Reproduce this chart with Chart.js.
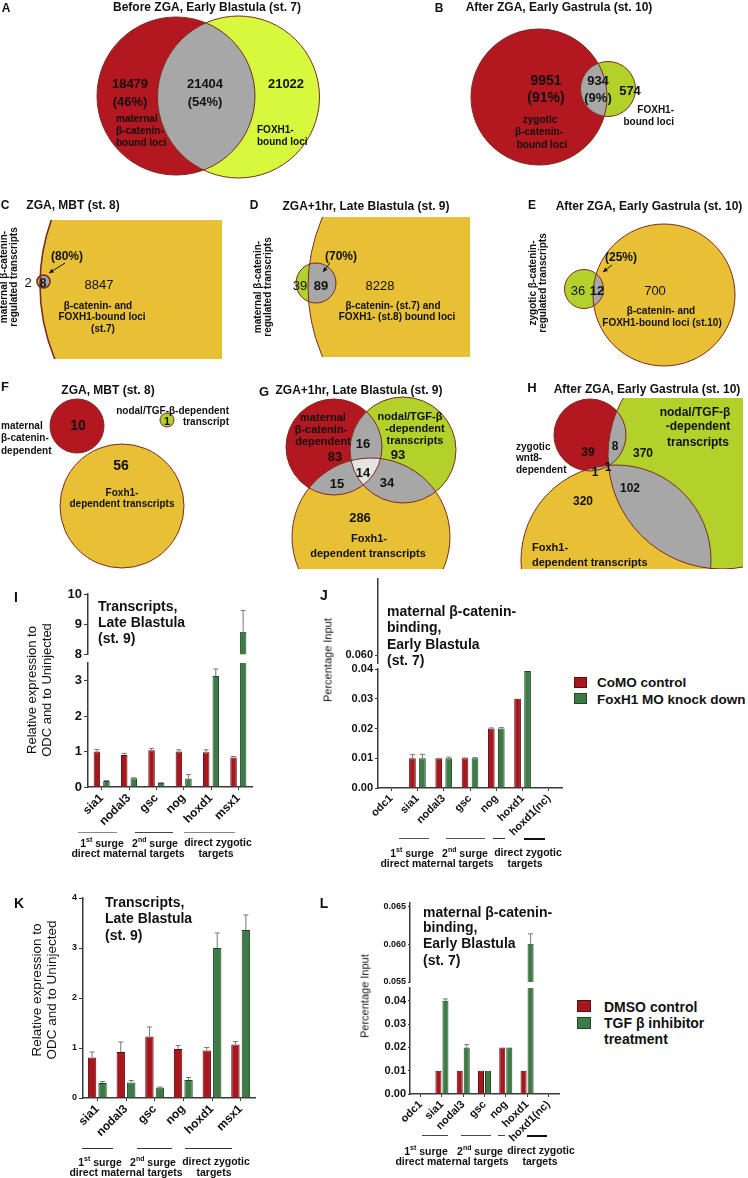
<!DOCTYPE html>
<html>
<head>
<meta charset="utf-8">
<script src="https://cdn.jsdelivr.net/npm/chart.js@4.4.1/dist/chart.umd.min.js"></script>
<style>
html, body { margin: 0; padding: 0; background: #fff; }
body { position: relative; width: 748px; height: 1178px; overflow: hidden; color: #111; }
canvas { position: absolute; }
.t { position: absolute; white-space: nowrap; }
.gl { position: absolute; height: 0; }
.sw { position: absolute; box-sizing: border-box; }
</style>
</head>
<body>
<script>
// ---- values ----
const countsA = [18479, 21404, 21022];
const shareA = ['46%', '54%'];
const countsB = [9951, 934, 574];
const shareB = ['91%', '9%'];
const countsC = [2, 8, 8847];
const countsD = [39, 89, 8228];
const countsE = [36, 12, 700];
const shareCDE = ['80%', '70%', '25%'];
const countsF = [10, 1, 56];
const countsG = [83, 16, 93, 14, 15, 34, 286];
const countsH = [39, 8, 370, 1, 1, 102, 320];

const genesIK = ['sia1', 'nodal3', 'gsc', 'nog', 'hoxd1', 'msx1'];
const genesJL = ['odc1', 'sia1', 'nodal3', 'gsc', 'nog', 'hoxd1', 'hoxd1(nc)'];

// I: transcripts, CoMO vs FoxH1 MO
const iCoMO = [1.0, 0.9, 1.04, 1.0, 0.98, 0.83];
const iCoMOErr = [0.06, 0.05, 0.05, 0.05, 0.07, 0.03];
const iFoxH1 = [0.17, 0.25, 0.11, 0.24, 3.13, 8.75];
const iFoxH1Err = [0.01, 0.01, 0.01, 0.11, 0.2, 0.7];
// J: ChIP, CoMO vs FoxH1 MO
const jCoMO = [0.0002, 0.01, 0.01, 0.01, 0.02, 0.03, 0.0002];
const jCoMOErr = [0, 0.0012, 0, 0.0001, 0.0002, 0, 0];
const jFoxH1 = [0.0002, 0.01, 0.01, 0.01, 0.02, 0.0393, 0.0002];
const jFoxH1Err = [0, 0.0013, 0.0004, 0.0002, 0.0003, 0, 0];
// K: transcripts, DMSO vs TGF-beta inhibitor
const kDMSO = [0.81, 0.92, 1.23, 0.98, 0.95, 1.07];
const kDMSOErr = [0.11, 0.2, 0.19, 0.07, 0.06, 0.06];
const kTGF = [0.3, 0.31, 0.21, 0.36, 3.0, 3.36];
const kTGFErr = [0.03, 0.04, 0.01, 0.05, 0.3, 0.3];
// L: ChIP, DMSO vs TGF-beta inhibitor
const lDMSO = [0.0002, 0.01, 0.01, 0.01, 0.02, 0.01, 0.0002];
const lDMSOErr = [0, 0, 0, 0, 0, 0, 0];
const lTGF = [0.0002, 0.04, 0.02, 0.01, 0.02, 0.0601, 0.0002];
const lTGFErr = [0, 0.0008, 0.0012, 0, 0, 0.0013, 0];

const ticksIlow = [0, 1, 2, 3];
const ticksIhigh = [8, 9, 10];
const ticksJlow = [0, 0.01, 0.02, 0.03, 0.04];
const ticksJhigh = [0.06];
const ticksK = [0, 1, 2, 3, 4];
const ticksLlow = [0, 0.01, 0.02, 0.03, 0.04];
const ticksLhigh = [0.055, 0.06, 0.065];

// ---- styles ----
const FONT = '"Liberation Sans", Arial, Helvetica, sans-serif';
const RED_V = '#b3171f', LIME = '#d7f83c', GREEN_V = '#b4d02b', GOLD = '#e8c035';
const GRAY = '#a7a7a7', LIGHT = '#e4e4e4', EDGE = '#7b2b20';
const BAR_RED = '#a8161e', BAR_RED_EDGE = '#5e0c10';
const BAR_GREEN = '#3c7b45', BAR_GREEN_EDGE = '#1f4626';
const AXIS = '#3a3a3a';

// venn geometry, in page units (drawn through the chart scales)
const vennLayout = [
  { centers: [[176, 96], [238.5, 97]], radii: [79, 81], fills: [RED_V, LIME], pairs: [[0, 1]] },
  { centers: [[539, 97], [608, 89]], radii: [68, 27.5], fills: [RED_V, GREEN_V], pairs: [[0, 1]] },
  { centers: [[232, 285], [43.5, 281.5]], radii: [192, 6.5], fills: [GOLD, GREEN_V], pairs: [[0, 1]], clip: [0, 220, 222, 359], edge: 1.6 },
  { centers: [[483, 287], [316, 283]], radii: [175, 20], fills: [GOLD, GREEN_V], pairs: [[0, 1]], clip: [250, 217, 470, 357] },
  { centers: [[664, 295], [584, 289]], radii: [71, 19.5], fills: [GOLD, GREEN_V], pairs: [[0, 1]] },
  { centers: [[77, 426], [167, 420], [122, 506]], radii: [27, 7, 62], fills: [RED_V, GREEN_V, GOLD] },
  { centers: [[334, 447], [403, 450], [371, 537]], radii: [48, 53, 79], fills: [RED_V, GREEN_V, GOLD],
    pairs: [[0, 1], [0, 2], [1, 2]], triples: [[0, 1, 2]], clip: [250, 396, 500, 569] },
  { centers: [[590, 435], [722, 455], [616, 560]], radii: [36, 114, 95], fills: [RED_V, GREEN_V, GOLD],
    pairs: [[0, 1], [0, 2], [1, 2]], triples: [[0, 1, 2]], clip: [500, 398, 743, 569] }
];
const vennArrows = [[65, 263, 49, 273], [330, 263, 323, 272], [612, 265, 603, 272]];

// ---- helpers ----
function put(x, y, html, font, align, rot, lh) {
  const d = document.createElement('div');
  d.className = 't';
  d.innerHTML = html;
  d.style.font = font + ' ' + FONT;
  d.style.lineHeight = lh ? lh + 'px' : '1';
  d.style.textAlign = 'center';
  d.style.left = x + 'px';
  d.style.top = y + 'px';
  const tx = align === 'l' ? '0' : align === 'r' ? '-100%' : '-50%';
  d.style.transform = 'translate(' + tx + ',-50%)' + (rot ? ' rotate(-90deg)' : '');
  document.body.appendChild(d);
  return d;
}

function hline(x1, x2, y, color, w) {
  const d = document.createElement('div');
  d.className = 'gl';
  d.style.left = x1 + 'px';
  d.style.top = y + 'px';
  d.style.width = (x2 - x1) + 'px';
  d.style.borderTop = w + 'px solid ' + color;
  document.body.appendChild(d);
}

function swatch(x, y, w, h, fill, edge) {
  const d = document.createElement('div');
  d.className = 'sw';
  d.style.cssText += 'left:' + x + 'px;top:' + y + 'px;width:' + w + 'px;height:' + h + 'px;background:' + fill + ';border:1px solid ' + edge;
  document.body.appendChild(d);
}

function addCanvas(left, top, w, h) {
  const cv = document.createElement('canvas');
  cv.width = w;
  cv.height = h;
  cv.style.left = left + 'px';
  cv.style.top = top + 'px';
  document.body.appendChild(cv);
  return cv;
}

// ---- venn plugin: circles, overlaps, outlines ----
const vennPlugin = {
  id: 'venn',
  beforeDatasetsDraw(chart) {
    const { ctx } = chart;
    const sx = chart.scales.x, sy = chart.scales.y;
    const path = c => { ctx.beginPath(); ctx.arc(c.x, c.y, c.r, 0, Math.PI * 2); };
    chart.data.datasets.forEach((ds, di) => {
      const pts = chart.getDatasetMeta(di).data;
      const circ = pts.map((p, i) => ({
        x: p.x, y: p.y,
        r: Math.abs(sx.getPixelForValue(ds.data[i].x + ds.radii[i]) - p.x)
      }));
      ctx.save();
      if (ds.clip) {
        const c = ds.clip;
        const x0 = sx.getPixelForValue(c[0]), y0 = sy.getPixelForValue(c[1]);
        const x1 = sx.getPixelForValue(c[2]), y1 = sy.getPixelForValue(c[3]);
        ctx.beginPath();
        ctx.rect(x0, y0, x1 - x0, y1 - y0);
        ctx.clip();
      }
      circ.forEach((c, i) => { path(c); ctx.fillStyle = ds.fills[i]; ctx.fill(); });
      (ds.pairs || []).forEach(([i, j]) => {
        ctx.save(); path(circ[i]); ctx.clip(); path(circ[j]); ctx.fillStyle = GRAY; ctx.fill(); ctx.restore();
      });
      (ds.triples || []).forEach(([i, j, k]) => {
        ctx.save(); path(circ[i]); ctx.clip(); path(circ[j]); ctx.clip();
        path(circ[k]); ctx.fillStyle = LIGHT; ctx.fill(); ctx.restore();
      });
      ctx.strokeStyle = EDGE;
      ctx.lineWidth = ds.edge || 1;
      circ.forEach(c => { path(c); ctx.stroke(); });
      ctx.restore();
    });
    // pointer arrows in C, D, E
    ctx.save();
    ctx.strokeStyle = '#111';
    ctx.fillStyle = '#111';
    ctx.lineWidth = 1;
    vennArrows.forEach(a => {
      const x0 = sx.getPixelForValue(a[0]), y0 = sy.getPixelForValue(a[1]);
      const x1 = sx.getPixelForValue(a[2]), y1 = sy.getPixelForValue(a[3]);
      const ang = Math.atan2(y1 - y0, x1 - x0);
      ctx.beginPath(); ctx.moveTo(x0, y0); ctx.lineTo(x1, y1); ctx.stroke();
      ctx.beginPath();
      ctx.moveTo(x1, y1);
      ctx.lineTo(x1 - 5 * Math.cos(ang - 0.45), y1 - 5 * Math.sin(ang - 0.45));
      ctx.lineTo(x1 - 5 * Math.cos(ang + 0.45), y1 - 5 * Math.sin(ang + 0.45));
      ctx.closePath();
      ctx.fill();
    });
    ctx.restore();
  }
};

// ---- error bar plugin ----
const errorBars = {
  id: 'errorBars',
  afterDatasetsDraw(chart) {
    const { ctx, chartArea: a } = chart;
    const y = chart.scales.y;
    ctx.save();
    ctx.beginPath();
    ctx.rect(a.left, a.top - 1, a.right - a.left, a.bottom - a.top + 1);
    ctx.clip();
    ctx.strokeStyle = '#777';
    ctx.lineWidth = 1;
    chart.data.datasets.forEach((ds, di) => {
      chart.getDatasetMeta(di).data.forEach((bar, i) => {
        const e = ds.errors[i];
        if (!e) return;
        const v = ds.data[i];
        const top = y.getPixelForValue(v + e), base = y.getPixelForValue(v);
        ctx.beginPath();
        ctx.moveTo(bar.x, base);
        ctx.lineTo(bar.x, top);
        ctx.moveTo(bar.x - 2.5, top);
        ctx.lineTo(bar.x + 2.5, top);
        ctx.stroke();
      });
    });
    ctx.restore();
  }
};

// ---- venn chart (A-H) ----
const vennCanvas = addCanvas(0, 0, 748, 575);
new Chart(vennCanvas, {
  type: 'scatter',
  data: {
    datasets: vennLayout.map(v => ({
      data: v.centers.map(([x, y]) => ({ x, y })),
      radii: v.radii, fills: v.fills, pairs: v.pairs, triples: v.triples, clip: v.clip, edge: v.edge,
      pointRadius: 0, pointHoverRadius: 0
    }))
  },
  options: {
    responsive: false, animation: false, devicePixelRatio: 1, events: [],
    layout: { padding: 0 },
    plugins: { legend: { display: false }, tooltip: { enabled: false } },
    scales: {
      x: { type: 'linear', min: 0, max: 748, display: false },
      y: { type: 'linear', min: 0, max: 575, reverse: true, display: false }
    }
  },
  plugins: [vennPlugin]
});

// ---- bar charts ----
function barPanel(o) {
  const cv = addCanvas(o.left, o.top, o.w, o.h);
  return new Chart(cv, {
    type: 'bar',
    data: {
      labels: o.labels,
      datasets: o.series.map((s, i) => ({
        label: s.label, data: s.values, errors: s.errors,
        backgroundColor: i ? BAR_GREEN : BAR_RED,
        borderColor: i ? BAR_GREEN_EDGE : BAR_RED_EDGE,
        borderWidth: 1,
        barPercentage: o.barPct, categoryPercentage: o.catPct,
        clip: 0
      }))
    },
    options: {
      responsive: false, animation: false, devicePixelRatio: 1, events: [],
      layout: { padding: { top: o.padTop, right: o.padRight, bottom: o.showX ? 0 : o.padBottom, left: 0 } },
      plugins: { legend: { display: false }, tooltip: { enabled: false } },
      scales: {
        x: {
          display: o.showX,
          grid: { display: true, drawOnChartArea: false, offset: false, tickLength: 3, color: AXIS },
          border: { display: true, color: AXIS, width: 1.5 },
          ticks: {
            font: { family: FONT, weight: 'bold', size: o.xFont }, color: '#111',
            minRotation: 45, maxRotation: 45, autoSkip: false, padding: 1
          },
          afterFit: s => { s.height = o.xH || 0; }
        },
        y: {
          min: o.min, max: o.max,
          grid: { display: true, drawOnChartArea: false, tickLength: o.tickLen, color: AXIS },
          border: { display: true, color: AXIS, width: 1.5 },
          ticks: {
            font: { family: FONT, weight: 'bold', size: o.yFont }, color: '#111', padding: 2,
            callback: v => o.fmt(v)
          },
          afterBuildTicks: s => { s.ticks = o.ticks.map(v => ({ value: v })); },
          afterFit: s => { s.width = o.yW; }
        }
      }
    },
    plugins: [errorBars]
  });
}

const seriesI = [
  { label: 'CoMO control', values: iCoMO, errors: iCoMOErr },
  { label: 'FoxH1 MO knock down', values: iFoxH1, errors: iFoxH1Err }
];
const seriesJ = [
  { label: 'CoMO control', values: jCoMO, errors: jCoMOErr },
  { label: 'FoxH1 MO knock down', values: jFoxH1, errors: jFoxH1Err }
];
const seriesK = [
  { label: 'DMSO control', values: kDMSO, errors: kDMSOErr },
  { label: 'TGF β inhibitor treatment', values: kTGF, errors: kTGFErr }
];
const seriesL = [
  { label: 'DMSO control', values: lDMSO, errors: lDMSOErr },
  { label: 'TGF β inhibitor treatment', values: lTGF, errors: lTGFErr }
];
const intFmt = v => String(v);
const fix2 = v => v.toFixed(2);
const fix3 = v => v.toFixed(3);

// I (broken axis: upper + lower)
barPanel({ left: 0, top: 584, w: 262, h: 80, padTop: 10, padRight: 10, padBottom: 9, showX: false,
  labels: genesIK, series: seriesI, min: 8, max: 10, ticks: ticksIhigh, fmt: intFmt,
  yW: 88, yFont: 13, xFont: 12, tickLen: 4, barPct: 0.68, catPct: 0.7 });
barPanel({ left: 0, top: 650, w: 262, h: 190, padTop: 13, padRight: 10, showX: true, xH: 53,
  labels: genesIK, series: seriesI, min: 0, max: 3.5, ticks: ticksIlow, fmt: intFmt,
  yW: 88, yFont: 13, xFont: 12, tickLen: 4, barPct: 0.68, catPct: 0.7 });

// J (broken axis)
barPanel({ left: 330, top: 569, w: 242, h: 103, padTop: 10, padRight: 10, padBottom: 9, showX: false,
  labels: genesJL, series: seriesJ, min: 0.059, max: 0.0695, ticks: ticksJhigh, fmt: fix3,
  yW: 48, yFont: 11, xFont: 11, tickLen: 3, barPct: 0.67, catPct: 0.76 });
barPanel({ left: 330, top: 655, w: 242, h: 190, padTop: 14, padRight: 10, showX: true, xH: 57,
  labels: genesJL, series: seriesJ, min: 0, max: 0.04, ticks: ticksJlow, fmt: fix2,
  yW: 48, yFont: 11, xFont: 11, tickLen: 3, barPct: 0.67, catPct: 0.76 });

// K
barPanel({ left: 0, top: 886, w: 265, h: 264, padTop: 12, padRight: 10, showX: true, xH: 52,
  labels: genesIK, series: seriesK, min: 0, max: 4, ticks: ticksK, fmt: intFmt,
  yW: 83, yFont: 9, xFont: 12, tickLen: 4, barPct: 0.8, catPct: 0.73 });

// L (broken axis)
barPanel({ left: 362, top: 893, w: 207, h: 98, padTop: 10, padRight: 10, padBottom: 9, showX: false,
  labels: genesJL, series: seriesL, min: 0.055, max: 0.0655, ticks: ticksLhigh, fmt: fix3,
  yW: 48, yFont: 9, xFont: 11, tickLen: 2, barPct: 0.86, catPct: 0.66 });
barPanel({ left: 362, top: 976, w: 207, h: 172, padTop: 12, padRight: 10, showX: true, xH: 54,
  labels: genesJL, series: seriesL, min: 0, max: 0.0455, ticks: ticksLlow, fmt: fix2,
  yW: 48, yFont: 11, xFont: 11, tickLen: 2, barPct: 0.86, catPct: 0.66 });

// ---- text: panel A ----
put(6, 8, 'A', 'bold 12px');
put(207, 7, 'Before ZGA, Early Blastula (st. 7)', 'bold 12px');
put(130, 83, countsA[0], 'bold 13px');
put(130, 101, '(' + shareA[0] + ')', 'bold 13px');
put(205, 83, countsA[1], 'bold 13px');
put(205, 101, '(' + shareA[1] + ')', 'bold 13px');
put(286, 83, countsA[2], 'bold 13px');
put(116, 119, 'maternal', 'bold 10px', 'l');
put(116, 131, 'β-catenin-', 'bold 10px', 'l');
put(116, 143, 'bound loci', 'bold 10px', 'l');
put(257, 130, 'FOXH1-', 'bold 10px', 'l');
put(257, 142, 'bound loci', 'bold 10px', 'l');

// panel B
put(439, 8, 'B', 'bold 12px');
put(559, 7, 'After ZGA, Early Gastrula (st. 10)', 'bold 12px');
put(546, 80, countsB[0], 'bold 14px');
put(546, 97, '(' + shareB[0] + ')', 'bold 14px');
put(598, 80, countsB[1], 'bold 13px');
put(598, 97, '(' + shareB[1] + ')', 'bold 13px');
put(630, 90, countsB[2], 'bold 13px');
put(674, 110, 'FOXH1-', 'bold 10px', 'r');
put(674, 122, 'bound loci', 'bold 10px', 'r');
put(540, 120, 'zygotic', 'bold 10px');
put(539, 132, 'β-catenin-', 'bold 10px');
put(542, 145, 'bound loci', 'bold 10px');

// panel C
put(5, 205, 'C', 'bold 12px');
put(73, 205, 'ZGA, MBT (st. 8)', 'bold 12px');
put(9, 277, 'maternal β-catenin-<br>regulated transcripts', 'bold 10px', 'c', true, 10);
put(67, 256, '(' + shareCDE[0] + ')', 'bold 12px');
put(28, 282, countsC[0], '13px');
put(43, 283, countsC[1], 'bold 12px');
put(99, 284, countsC[2], '13px');
put(98, 306, 'β-catenin- and', 'bold 10px');
put(102, 317, 'FOXH1-bound loci', 'bold 10px');
put(103, 329, '(st.7)', 'bold 10px');

// panel D
put(254, 205, 'D', 'bold 12px');
put(366, 206, 'ZGA+1hr, Late Blastula (st. 9)', 'bold 12px');
put(263, 287, 'maternal β-catenin-<br>regulated transcripts', 'bold 10px', 'c', true, 10);
put(341, 256, '(' + shareCDE[1] + ')', 'bold 12px');
put(300, 285, countsD[0], '13px');
put(321, 285, countsD[1], 'bold 13px');
put(380, 285, countsD[2], '13px');
put(393, 306, 'β-catenin- (st.7) and', 'bold 10px');
put(397, 317, 'FOXH1- (st.8) bound loci', 'bold 10px');

// panel E
put(532, 205, 'E', 'bold 12px');
put(649, 206, 'After ZGA, Early Gastrula (st. 10)', 'bold 12px');
put(538, 283, 'zygotic β-catenin-<br>regulated transcripts', 'bold 10px', 'c', true, 10);
put(621, 257, '(' + shareCDE[2] + ')', 'bold 12px');
put(578, 290, countsE[0], '13px');
put(597, 290, countsE[1], 'bold 13px');
put(655, 290, countsE[2], '13px');
put(661, 311, 'β-catenin- and', 'bold 10px');
put(662, 323, 'FOXH1-bound loci (st.10)', 'bold 10px');

// panel F
put(5, 386, 'F', 'bold 13px');
put(108, 390, 'ZGA, MBT (st. 8)', 'bold 12px');
put(78, 425, countsF[0], 'bold 14px');
put(167, 421, countsF[1], 'bold 11px');
put(121, 465, countsF[2], 'bold 14px');
put(229, 411, 'nodal/TGF-β-dependent', 'bold 10px', 'r');
put(229, 422, 'transcript', 'bold 10px', 'r');
put(1, 426, 'maternal', 'bold 10px', 'l');
put(1, 438, 'β-catenin-', 'bold 10px', 'l');
put(1, 451, 'dependent', 'bold 10px', 'l');
put(122, 493, 'Foxh1-', 'bold 10px');
put(122, 504, 'dependent transcripts', 'bold 10px');

// panel G
put(264, 391, 'G', 'bold 13px');
put(359, 390, 'ZGA+1hr, Late Blastula (st. 9)', 'bold 12px');
put(323, 417, 'maternal', 'bold 11px');
put(321, 429, 'β-catenin-', 'bold 11px');
put(323, 441, 'dependent', 'bold 11px');
put(410, 416, 'nodal/TGF-β', 'bold 11px');
put(415, 428, '-dependent', 'bold 11px');
put(415, 440, 'transcripts', 'bold 11px');
put(335, 456, countsG[0], 'bold 13px');
put(363, 443, countsG[1], 'bold 13px');
put(398, 454, countsG[2], 'bold 13px');
put(363, 472, countsG[3], 'bold 13px');
put(337, 483, countsG[4], 'bold 13px');
put(387, 482, countsG[5], 'bold 13px');
put(360, 517, countsG[6], 'bold 13px');
put(369, 538, 'Foxh1-', 'bold 11px');
put(368, 553, 'dependent transcripts', 'bold 11px');

// panel H
put(532, 387, 'H', 'bold 13px');
put(647, 389, 'After ZGA, Early Gastrula (st. 10)', 'bold 12px');
put(695, 412, 'nodal/TGF-β', 'bold 12px');
put(698, 426, '-dependent', 'bold 12px');
put(698, 442, 'transcripts', 'bold 12px');
put(516, 447, 'zygotic', 'bold 10px', 'l');
put(516, 458, 'wnt8-', 'bold 10px', 'l');
put(516, 470, 'dependent', 'bold 10px', 'l');
put(588, 452, countsH[0], 'bold 12px');
put(615, 446, countsH[1], 'bold 12px');
put(643, 453, countsH[2], 'bold 12px');
put(595, 472, countsH[3], 'bold 12px');
put(608, 467, countsH[4], 'bold 12px');
put(630, 488, countsH[5], 'bold 12px');
put(583, 501, countsH[6], 'bold 12px');
put(532, 547, 'Foxh1-', 'bold 11px', 'l');
put(532, 562, 'dependent transcripts', 'bold 11px', 'l');

// ---- text: panel I ----
put(16, 597, 'I', 'bold 14px');
put(98, 606, 'Transcripts,', 'bold 14px', 'l');
put(98, 622, 'Late Blastula', 'bold 14px', 'l');
put(98, 638, '(st. 9)', 'bold 14px', 'l');
put(39, 690, 'Relative expression to<br>ODC and to Uninjected', '13px', 'c', true, 15);
hline(78, 117, 832, '#888', 1);
hline(135, 173, 832, '#444', 1);
hline(184, 235, 832, '#888', 1);
put(102, 842, '1<sup style="font-size:7px">st</sup> surge', 'bold 10.5px');
put(155, 842, '2<sup style="font-size:7px">nd</sup> surge', 'bold 10.5px');
put(218, 842, 'direct zygotic', 'bold 10.5px');
put(128, 853, 'direct maternal targets', 'bold 10.5px');
put(216, 853, 'targets', 'bold 10.5px');

// panel J
put(324, 595, 'J', 'bold 14px');
put(387, 611, 'maternal β-catenin-', 'bold 14px', 'l');
put(387, 627, 'binding,', 'bold 14px', 'l');
put(387, 644, 'Early Blastula', 'bold 14px', 'l');
put(387, 660, '(st. 7)', 'bold 14px', 'l');
put(328, 660, 'Percentage Input', '11px', 'c', true);
swatch(574, 677, 13, 11, BAR_RED, BAR_RED_EDGE);
swatch(574, 693, 13, 11, BAR_GREEN, BAR_GREEN_EDGE);
put(597, 683, seriesJ[0].label, 'bold 13.5px', 'l');
put(597, 700, seriesJ[1].label, 'bold 13.5px', 'l');
hline(399, 429, 838, '#555', 1);
hline(446, 485, 838, '#555', 1);
hline(493, 505, 838, '#333', 1);
hline(524, 545, 838, '#111', 2);
put(412, 852, '1<sup style="font-size:7px">st</sup> surge', 'bold 10.5px');
put(465, 852, '2<sup style="font-size:7px">nd</sup> surge', 'bold 10.5px');
put(528, 852, 'direct zygotic', 'bold 10.5px');
put(437, 863, 'direct maternal targets', 'bold 10.5px');
put(525, 863, 'targets', 'bold 10.5px');

// panel K
put(19, 903, 'K', 'bold 14px');
put(105, 902, 'Transcripts,', 'bold 14px', 'l');
put(105, 918, 'Late Blastula', 'bold 14px', 'l');
put(105, 935, '(st. 9)', 'bold 14px', 'l');
put(44, 990, 'Relative expression to<br>ODC and to Uninjected', '13.5px', 'c', true, 15);
hline(82, 113, 1148, '#333', 1.5);
hline(137, 172, 1148, '#333', 1.5);
hline(185, 232, 1148, '#333', 1.5);
put(100, 1161, '1<sup style="font-size:7px">st</sup> surge', 'bold 10.5px');
put(153, 1161, '2<sup style="font-size:7px">nd</sup> surge', 'bold 10.5px');
put(216, 1161, 'direct zygotic', 'bold 10.5px');
put(126, 1172, 'direct maternal targets', 'bold 10.5px');
put(214, 1172, 'targets', 'bold 10.5px');

// panel L
put(324, 903, 'L', 'bold 14px');
put(423, 912, 'maternal β-catenin-', 'bold 14px', 'l');
put(423, 927, 'binding,', 'bold 14px', 'l');
put(423, 943, 'Early Blastula', 'bold 14px', 'l');
put(423, 960, '(st. 7)', 'bold 14px', 'l');
put(365, 996, 'Percentage Input', '11px', 'c', true);
swatch(577, 1000, 14, 12, BAR_RED, BAR_RED_EDGE);
swatch(577, 1017, 14, 12, BAR_GREEN, BAR_GREEN_EDGE);
put(604, 1007, seriesL[0].label, 'bold 14px', 'l');
put(604, 1023, 'TGF β inhibitor', 'bold 14px', 'l');
put(604, 1039, 'treatment', 'bold 14px', 'l');
hline(422, 448, 1135, '#444', 1.5);
hline(461, 491, 1135, '#444', 1.5);
hline(498, 505, 1135, '#444', 1.5);
hline(527, 547, 1135, '#111', 2);
put(426, 1150, '1<sup style="font-size:7px">st</sup> surge', 'bold 10.5px');
put(480, 1150, '2<sup style="font-size:7px">nd</sup> surge', 'bold 10.5px');
put(541, 1150, 'direct zygotic', 'bold 10.5px');
put(452, 1161, 'direct maternal targets', 'bold 10.5px');
put(540, 1161, 'targets', 'bold 10.5px');
</script>
</body>
</html>
